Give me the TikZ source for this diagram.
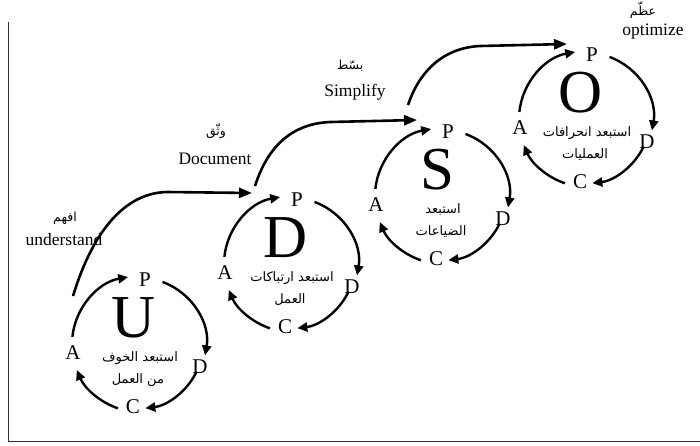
\documentclass[tikz,border=0pt]{standalone}
\usepackage{fontspec}
\setmainfont{Liberation Serif}
\newfontfamily\arabicfont[Script=Arabic]{DejaVu Sans}
\TeXXeTstate=1
\usetikzlibrary{arrows.meta}
\newcommand{\pdcacycle}[6]{%
  \coordinate (#1) at (#2,#3);
  \node[bigletter] (#1-big) at ([shift={(-6,-26)}]#1) {#4};
  \node[cycletter] (#1-P) at ([shift={(5,-64)}]#1) {P};
  \node[cycletter] (#1-A) at ([shift={(-67,9)}]#1) {A};
  \node[cycletter] (#1-D) at ([shift={(60,23)}]#1) {D};
  \node[cycletter] (#1-C) at ([shift={(-7,63)}]#1) {C};
  \node[artext] (#1-t1) at ([shift={(0,14)}]#1) {#5};
  \node[artext] (#1-t2) at ([shift={(-2,36)}]#1) {#6};
  \draw[cycarrow] ([shift={(186:68)}]#1) arc[start angle=186,end angle=260,radius=68];
  \draw[cycarrow] ([shift={(290:66)}]#1) arc[start angle=290,end angle=370,radius=66];
  \draw[cycarrow] ([shift={(26:63)}]#1) arc[start angle=26,end angle=83,radius=66];
  \draw[cycarrow] ([shift={(109:68)}]#1) arc[start angle=109,end angle=157,radius=69];
}
\begin{document}
\begin{tikzpicture}[x=1pt,y=-1pt,
  bigletter/.style={inner sep=0pt,font=\fontsize{61}{61}\selectfont},
  cycletter/.style={inner sep=0pt,font=\fontsize{21}{21}\selectfont},
  artext/.style={inner sep=0pt,font=\arabicfont\fontsize{13}{14}\selectfont},
  labtext/.style={inner sep=0pt,font=\fontsize{17.5}{18}\selectfont},
  arlab/.style={inner sep=0pt,font=\arabicfont\fontsize{12.5}{13}\selectfont},
  cycarrow/.style={line width=2.4pt,-{Triangle[length=10pt,width=9pt]}},
  steparrow/.style={line width=2.6pt,-{Triangle[length=13pt,width=10pt]}},
  frameline/.style={line width=1.6pt,draw=black!80}]
\useasboundingbox (0,0) rectangle (700,445);
% frame
\coordinate (ftop) at (8.5,22);
\coordinate (fcorner) at (8.5,441.5);
\coordinate (fright) at (700,441.5);
\draw[frameline] (ftop) -- (fcorner) -- (fright);
% cycles
\pdcacycle{U}{140}{344}{U}{\beginR استبعد الخوف\endR}{\beginR من العمل\endR}
\pdcacycle{Dc}{292}{264}{D}{\beginR استبعد ارتباكات\endR}{\beginR العمل\endR}
\pdcacycle{S}{443}{196}{S}{\beginR استبعد\endR}{\beginR الضياعات\endR}
\pdcacycle{O}{587}{119}{O}{\beginR استبعد انحرافات\endR}{\beginR العمليات\endR}
% step arrows
\coordinate (s1a) at (73,296);
\coordinate (s1b) at (252,193);
\draw[steparrow] (s1a) .. controls (90,240) and (120,193) .. (167,192) -- (s1b);
\coordinate (s2a) at (255,186);
\coordinate (s2b) at (417,120);
\draw[steparrow] (s2a) .. controls (265,155) and (285,124) .. (330,122) -- (s2b);
\coordinate (s3a) at (408,105);
\coordinate (s3b) at (567,44);
\draw[steparrow] (s3a) .. controls (418,75) and (440,48) .. (480,46) -- (s3b);
% labels
\node[arlab] (l1ar) at (65,218) {\beginR افهم\endR};
\node[labtext] (l1) at (64,240) {understand};
\node[arlab] (l2ar) at (216,131) {\beginR وثّق\endR};
\node[labtext] (l2) at (215,159) {Document};
\node[arlab] (l3ar) at (350,66) {\beginR بسّط\endR};
\node[labtext] (l3) at (355,92) {Simplify};
\node[arlab] (l4ar) at (643,10) {\beginR عظّم\endR};
\node[labtext] (l4) at (653,32) {optimize};
\end{tikzpicture}
\end{document}
